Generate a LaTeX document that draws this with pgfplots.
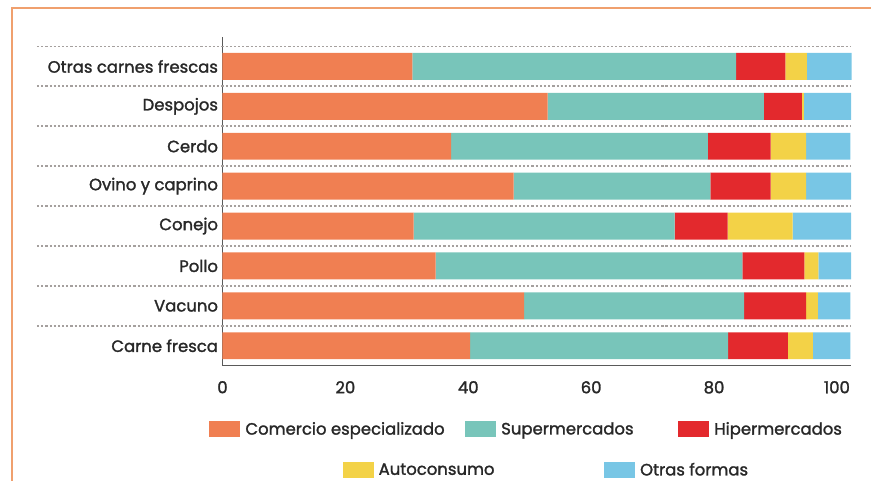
\documentclass[border=0pt]{standalone}
\usepackage{fontspec}
\setmainfont{Poppins}[FakeBold=1.6]
\usepackage{pgfplots}
\pgfplotsset{compat=1.18}
\definecolor{cOr}{RGB}{240,127,82}
\definecolor{cTe}{RGB}{120,197,186}
\definecolor{cRe}{RGB}{227,41,45}
\definecolor{cYe}{RGB}{243,210,71}
\definecolor{cBl}{RGB}{120,198,229}
\definecolor{cBorder}{RGB}{240,160,110}
\definecolor{txt}{RGB}{40,40,40}
\definecolor{axg}{RGB}{90,90,90}
\definecolor{grd}{RGB}{165,160,158}
\newcommand{\lfont}{\fontsize{16.5}{19}\selectfont}
\pgfplotsset{
  base/.style={at={(223pt,-366.5pt)}, anchor=south west, scale only axis,
    width=630pt, height=329.5pt, xmin=0, xmax=102.3, ymin=-0.5, ymax=7.74},
  sw/.style={legend image code/.code={\fill[##1] (0pt,-8pt) rectangle (31pt,8pt);}},
  hid/.style={base, hide axis,
    legend style={draw=none, fill=none, inner sep=0pt, font=\lfont, text=txt, anchor=west}},
}
\begin{document}
\begin{tikzpicture}
\path (0pt,0pt) rectangle (872pt,-482pt);
\draw[cBorder, line width=2pt] (12pt,-482pt) -- (12pt,-8pt) -- (873pt,-8pt);
\begin{axis}[base,
  xbar stacked, bar width=27pt,
  ytick={0,...,7},
  yticklabels={Carne fresca, Vacuno, Pollo, Conejo, Ovino y caprino, Cerdo, Despojos, Otras carnes frescas},
  xtick={0,20,...,100},
  axis x line*=bottom, axis y line*=left,
  axis line style={draw=axg, line width=1.4pt},
  major tick length=0pt,
  tick label style={font=\lfont, text=txt},
  yticklabel style={xshift=-1pt},
  xticklabel style={yshift=-12pt},
  /pgf/number format/assume math mode=true,
  clip=false,
]
\pgfplotsinvokeforeach{0.5,1.5,...,7.5}{
  \draw[grd, line width=2pt, dash pattern=on 2.2pt off 2pt] (axis cs:-30.2,#1) -- (axis cs:102.3,#1);
}
\addplot[fill=cOr, draw=none] coordinates {(40.3,0) (49.1,1) (34.7,2) (31.1,3) (47.4,4) (37.2,5) (52.9,6) (30.9,7)};
\addplot[fill=cTe, draw=none] coordinates {(42.0,0) (35.8,1) (49.9,2) (42.5,3) (32.0,4) (41.8,5) (35.2,6) (52.7,7)};
\addplot[fill=cRe, draw=none] coordinates {(9.7,0) (10.1,1) (10.1,2) (8.6,3) (9.8,4) (10.2,5) (6.2,6) (8.0,7)};
\addplot[fill=cYe, draw=none] coordinates {(4.1,0) (1.9,1) (2.3,2) (10.6,3) (5.8,4) (5.8,5) (0.3,6) (3.5,7)};
\addplot[fill=cBl, draw=none] coordinates {(6.1,0) (5.3,1) (5.3,2) (9.5,3) (7.3,4) (7.2,5) (7.7,6) (7.3,7)};
\end{axis}
\begin{axis}[hid, legend style={at={(-0.021,-0.193)}}]
\addlegendimage{sw, fill=cOr, draw=none}\addlegendentry{\hspace{3pt}Comercio especializado}
\end{axis}
\begin{axis}[hid, legend style={at={(0.386,-0.193)}}]
\addlegendimage{sw, fill=cTe, draw=none}\addlegendentry{\hspace{3pt}Supermercados}
\end{axis}
\begin{axis}[hid, legend style={at={(0.725,-0.193)}}]
\addlegendimage{sw, fill=cRe, draw=none}\addlegendentry{\hspace{3pt}Hipermercados}
\end{axis}
\begin{axis}[hid, legend style={at={(0.191,-0.317)}}]
\addlegendimage{sw, fill=cYe, draw=none}\addlegendentry{\hspace{3pt}Autoconsumo}
\end{axis}
\begin{axis}[hid, legend style={at={(0.607,-0.317)}}]
\addlegendimage{sw, fill=cBl, draw=none}\addlegendentry{\hspace{3pt}Otras formas}
\end{axis}
\end{tikzpicture}
\end{document}
